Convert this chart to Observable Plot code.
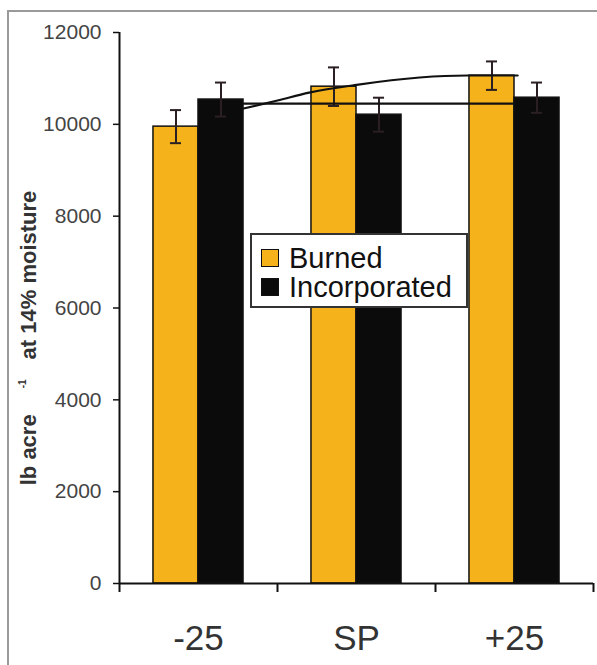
<!DOCTYPE html>
<html>
<head>
<meta charset="utf-8">
<script src="https://cdn.jsdelivr.net/npm/d3@7"></script>
<script src="https://cdn.jsdelivr.net/npm/@observablehq/plot@0.6"></script>
<style>
  html, body { margin: 0; padding: 0; background: #fff; }
  #wrap { position: relative; width: 597px; height: 665px; overflow: hidden; font-family: "Liberation Sans", Arial, sans-serif; }
  #frame { position: absolute; left: 7px; top: 10px; right: -5px; bottom: -5px; border-top: 2px solid #9a9a9a; border-left: 2px solid #9a9a9a; pointer-events: none; }
  #legend { position: absolute; left: 250px; top: 233px; width: 214px; height: 71px; border: 2px solid #333; background: #fff; box-sizing: content-box; }
  .row { position: absolute; left: 9px; display: flex; align-items: center; font-size: 29px; line-height: 30px; color: #111; white-space: nowrap; }
  .sw { width: 18px; height: 18px; border: 1.5px solid #111; margin-right: 10px; box-sizing: border-box; }
</style>
</head>
<body>
<div id="wrap">
  <div id="chart"></div>
  <div id="frame"></div>
  <div id="legend"></div>
</div>
<script>
// ---- data ----
const categories = ["-25", "SP", "+25"];
const seriesNames = ["Burned", "Incorporated"];
const seriesColors = ["#F6B21B", "#0b0b0b"];
const burned = [9950, 10820, 11060];
const burnedErr = [360, 420, 310];
const incorporated = [10540, 10210, 10580];
const incorporatedErr = [370, 370, 330];
const yTicks = [0, 2000, 4000, 6000, 8000, 10000, 12000];
// two trend lines drawn over the bars (position in category units, value)
const trendCurveX = [0.785, 1.0, 1.2, 1.5, 1.9, 2.2, 2.52];
const trendCurveY = [10345, 10520, 10690, 10860, 11020, 11063, 11063];
const trendFlatX = [0.785, 2.494];
const trendFlatY = [10450, 10450];

// ---- layout constants ----
const barOffset = [0.215, 0.5]; // left edge of each series' bar within its group
const barWidth = 0.285;
const capHalf = 0.035;

const rows = [];
categories.forEach((c, i) => {
  rows.push({cat: c, i, s: 0, v: burned[i], e: burnedErr[i]});
  rows.push({cat: c, i, s: 1, v: incorporated[i], e: incorporatedErr[i]});
});
const bx1 = d => d.i + barOffset[d.s];
const bx2 = d => d.i + barOffset[d.s] + barWidth;
const bcx = d => d.i + barOffset[d.s] + barWidth / 2;

const curve = trendCurveX.map((x, k) => ({x, y: trendCurveY[k]}));
const flat = trendFlatX.map((x, k) => ({x, y: trendFlatY[k]}));

const chart = Plot.plot({
  width: 597,
  height: 665,
  marginLeft: 119,
  marginRight: 4,
  marginTop: 32,
  marginBottom: 82,
  style: {fontFamily: "'Liberation Sans', Arial, sans-serif", background: "transparent", overflow: "visible"},
  x: {type: "linear", domain: [0, 3], axis: null},
  y: {domain: [0, 12000], axis: null},
  marks: [
    Plot.rectY(rows, {x1: bx1, x2: bx2, y1: 0, y2: "v", fill: d => seriesColors[d.s], stroke: "#111", strokeWidth: 1.5}),
    Plot.ruleX(rows, {x: bcx, y1: d => d.v - d.e, y2: d => d.v + d.e, stroke: "#2a1f22", strokeWidth: 2}),
    Plot.ruleY(rows, {y: d => d.v + d.e, x1: d => bcx(d) - capHalf, x2: d => bcx(d) + capHalf, stroke: "#2a1f22", strokeWidth: 2}),
    Plot.ruleY(rows, {y: d => d.v - d.e, x1: d => bcx(d) - capHalf, x2: d => bcx(d) + capHalf, stroke: "#2a1f22", strokeWidth: 2}),
    Plot.line(curve, {x: "x", y: "y", curve: "monotone-x", stroke: "#111", strokeWidth: 2.2}),
    Plot.line(flat, {x: "x", y: "y", stroke: "#111", strokeWidth: 2.2}),
    Plot.axisY({ticks: yTicks, tickSize: 6, tickPadding: 12, tickFormat: d => String(d), label: null, fontSize: 21, stroke: "#111", strokeWidth: 1.5, fill: "#444"}),
    Plot.axisX({ticks: [0, 1, 2, 3], tickSize: 9, tickFormat: () => "", label: null, stroke: "#111", strokeWidth: 2}),
    Plot.axisX({ticks: [0.5, 1.5, 2.5], tickSize: 0, tickPadding: 42, tickFormat: d => categories[Math.floor(d)], label: null, fontSize: 35, fill: "#333"}),
    Plot.ruleX([0], {y1: 0, y2: 12000, stroke: "#111", strokeWidth: 2}),
    Plot.ruleY([0], {stroke: "#111", strokeWidth: 2})
  ]
});
document.getElementById("chart").appendChild(chart);

// y-axis title with superscript
const svg = d3.select(chart);
const t = svg.append("text")
  .attr("transform", "translate(36,338) rotate(-90)")
  .attr("text-anchor", "middle")
  .attr("font-family", "'Liberation Sans', Arial, sans-serif")
  .attr("font-weight", "bold")
  .attr("font-size", 22)
  .attr("fill", "#333");
t.append("tspan").text("lb acre");
t.append("tspan").attr("dx", 26).attr("dy", -10).attr("font-size", 10).text("-1");
t.append("tspan").attr("dx", 20).attr("dy", 10).text("at 14% moisture");

// legend
const lg = document.getElementById("legend");
seriesNames.forEach((name, k) => {
  const r = document.createElement("div");
  r.className = "row";
  r.style.top = (k === 0 ? 8 : 37) + "px";
  const sw = document.createElement("div");
  sw.className = "sw";
  sw.style.background = seriesColors[k];
  r.appendChild(sw);
  const tx = document.createElement("span");
  tx.textContent = name;
  r.appendChild(tx);
  lg.appendChild(r);
});
</script>
</body>
</html>
